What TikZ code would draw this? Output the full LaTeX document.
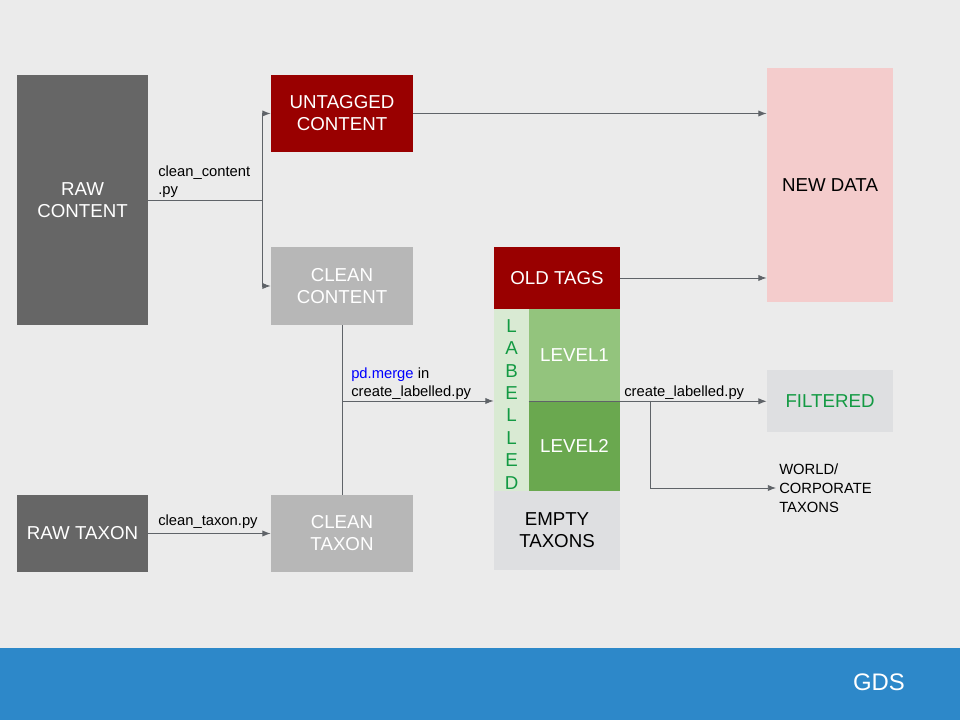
\documentclass[tikz,border=0pt]{standalone}
\usepackage{fontspec}
\setmainfont{Liberation Sans}
\usetikzlibrary{arrows.meta}

\definecolor{bggrey}{HTML}{EBEBEB}
\definecolor{darkbox}{HTML}{666666}
\definecolor{lightbox}{HTML}{B7B7B7}
\definecolor{redbox}{HTML}{990000}
\definecolor{pinkbox}{HTML}{F4CCCC}
\definecolor{palegreen}{HTML}{D9EAD3}
\definecolor{midgreen}{HTML}{93C47D}
\definecolor{deepgreen}{HTML}{6AA84F}
\definecolor{paleslate}{HTML}{DEDFE1}
\definecolor{textgreen}{HTML}{139A43}
\definecolor{linegrey}{HTML}{5F6368}
\definecolor{gdsblue}{HTML}{2D88C9}

\begin{document}
\begin{tikzpicture}[x=0.025cm,y=-0.025cm,
    box/.style={inner sep=0pt, align=center, font=\fontsize{13.3}{15.6}\selectfont},
    boxsize/.style 2 args={minimum width=#1*0.025cm, minimum height=#2*0.025cm},
    note/.style={inner sep=0pt, align=left, font=\fontsize{10.5}{12.8}\selectfont},
    link/.style={draw=linegrey, line width=0.7pt},
    flow/.style={link, -{Latex[length=6pt,width=4.5pt]}}]

    \useasboundingbox (0,0) rectangle (960,720);
    \fill[bggrey] (0,0) rectangle (960,648);
    \fill[gdsblue] (0,648) rectangle (960,720);
    \node[text=white, font=\fontsize{17}{20}\selectfont] (gds) at (879,682) {GDS};

    \node[box, boxsize={131}{250}, fill=darkbox, text=white] (rawcontent) at (82.5,200) {RAW\\CONTENT};
    \node[box, boxsize={142}{77}, fill=redbox, text=white] (untagged) at (342,113.5) {UNTAGGED\\CONTENT};
    \node[box, boxsize={142}{78}, fill=lightbox, text=white] (cleancontent) at (342,286) {CLEAN\\CONTENT};
    \node[box, boxsize={131}{77}, fill=darkbox, text=white] (rawtaxon) at (82.5,533.5) {RAW TAXON};
    \node[box, boxsize={142}{77}, fill=lightbox, text=white] (cleantaxon) at (342,533.5) {CLEAN\\TAXON};
    \node[box, boxsize={126}{234}, fill=pinkbox] (newdata) at (830,185) {NEW DATA};
    \node[box, boxsize={126}{62}, fill=redbox, text=white] (oldtags) at (557,278) {OLD TAGS};
    \node[box, boxsize={35}{182}, fill=palegreen, text=textgreen,
          font=\fontsize{13.3}{15.9}\selectfont] (labelled) at (511.5,400)
          {\rule{0pt}{15.3pt}L\\A\\B\\E\\L\\L\\E\\D};
    \node[box, boxsize={91}{92}, fill=midgreen, text=white] (levelone) at (574.5,355) {LEVEL1};
    \node[box, boxsize={91}{90}, fill=deepgreen, text=white] (leveltwo) at (574.5,446) {LEVEL2};
    \node[box, boxsize={126}{79}, fill=paleslate] (emptytaxons) at (557,530.5) {EMPTY\\TAXONS};
    \node[box, boxsize={126}{62}, fill=paleslate, text=textgreen] (filtered) at (830,401) {FILTERED};
    \node[note, anchor=west, font=\fontsize{10.5}{13.5}\selectfont] (world) at (779,488) {WORLD/\\CORPORATE\\TAXONS};

    \coordinate (split) at (262,200);
    \coordinate (merge) at (342,401);
    \coordinate (branch) at (650,401);

    \draw[link] (rawcontent.east) -- (split);
    \draw[flow] (split) |- (untagged.west);
    \draw[flow] (split) |- (cleancontent.west);
    \draw[flow] (untagged) -- (untagged -| newdata.west);
    \draw[flow] (oldtags) -- (oldtags -| newdata.west);
    \draw[link] (cleancontent) -- (cleantaxon);
    \draw[flow] (merge) -- (merge -| labelled.west);
    \draw[flow] (rawtaxon) -- (cleantaxon);
    \draw[flow] (levelone.south west) -- (levelone.south west -| filtered.west);
    \draw[flow] (branch) |- ([xshift=-2pt]world.west);

    \node[note, anchor=south west] (cleancontentpy) at (158,197.5) {clean\_content\\.py};
    \node[note, anchor=south west] (mergepy) at (351,400) {\textcolor{blue}{pd.merge} in\\create\_labelled.py};
    \node[note, anchor=south west] (cleantaxonpy) at (158,529) {clean\_taxon.py};
    \node[note, anchor=south west] (labelledpy) at (624,400) {create\_labelled.py};

\end{tikzpicture}
\end{document}
